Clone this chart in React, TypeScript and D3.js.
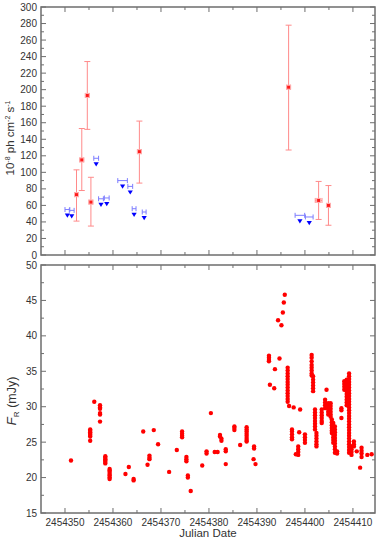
import React from 'react';
import * as d3 from 'd3';

// gamma-ray fluxes (10^-8 ph cm^-2 s^-1)
const detJD = [2454352.4, 2454353.5, 2454354.65, 2454355.4, 2454365.5, 2454396.6, 2454402.85, 2454404.9];
const detFlux = [73, 115, 193, 64, 125, 203, 66, 60];
const detLo = [41, 78, 152, 35, 87, 127, 43, 36];
const detHi = [103, 153, 234, 94, 162, 278, 89, 84];
const detXerr = [0.4, 0.4, 0.4, 0.4, 0.4, 0.4, 0.7, 0.4];

// upper limits
const ulJD = [2454350.5, 2454351.4, 2454356.5, 2454357.5, 2454358.7, 2454362.0, 2454363.6, 2454364.4, 2454366.5, 2454398.95, 2454400.9];
const ulFlux = [55, 54, 117, 68, 69, 90, 83, 56, 52, 48, 46];
const ulXerr = [0.5, 0.5, 0.5, 0.5, 0.5, 1.0, 0.5, 0.4, 0.4, 1.0, 0.8];

// optical R-band flux (mJy): [JD, values at that time]
const opticalRuns: [number, number[]][] = [
  [2454351.25, [22.4]],
  [2454355.25, [26.8, 26.6, 26.4, 26.2, 26.0, 25.8, 25.2]],
  [2454356.1, [30.7]],
  [2454357.3, [30.2, 29.9, 29.7, 29.1, 28.9, 27.9]],
  [2454358.4, [23.0, 22.8, 22.6, 22.4, 22.2, 22.0]],
  [2454359.3, [21.2, 21.0, 20.8, 20.5, 20.3, 20.0, 19.8]],
  [2454362.6, [20.5]],
  [2454363.3, [21.5]],
  [2454364.3, [19.8, 19.6]],
  [2454366.3, [26.5]],
  [2454367.2, [21.8]],
  [2454367.6, [23.1, 22.8, 22.6]],
  [2454368.5, [26.7]],
  [2454369.4, [24.7]],
  [2454371.7, [20.8]],
  [2454373.3, [23.9]],
  [2454374.4, [26.5, 26.2, 25.9, 25.7]],
  [2454375.3, [22.9, 22.6, 22.3]],
  [2454375.6, [20.3, 20.0]],
  [2454376.2, [18.1]],
  [2454378.6, [21.7]],
  [2454379.5, [23.7, 23.4]],
  [2454380.4, [29.1]],
  [2454381.2, [23.6]],
  [2454381.8, [23.6]],
  [2454382.3, [26.0, 25.8]],
  [2454382.6, [25.5, 25.2]],
  [2454383.5, [24.0, 23.7, 21.9]],
  [2454385.3, [27.2, 27.0, 26.7]],
  [2454386.5, [24.6]],
  [2454387.85, [27.1, 26.8, 26.5, 26.2, 25.9, 25.6, 25.3, 25.1]],
  [2454389.4, [24.4, 24.1]],
  [2454389.3, [22.6]],
  [2454389.7, [21.9]],
  [2454392.5, [37.2, 36.9, 36.6, 36.4]],
  [2454392.7, [33.1]],
  [2454393.6, [32.6]],
  [2454393.75, [35.3]],
  [2454394.4, [42.2]],
  [2454394.7, [36.8]],
  [2454395.1, [41.5]],
  [2454395.4, [43.3]],
  [2454395.6, [44.7]],
  [2454395.8, [45.8]],
  [2454396.4, [35.5, 35.1, 34.7, 34.3, 33.9, 33.5, 33.1, 32.7, 32.3, 31.9, 31.5, 31.1, 30.7]],
  [2454396.7, [30.1]],
  [2454397.3, [26.8, 26.5, 26.1, 25.7, 25.4]],
  [2454397.65, [29.9]],
  [2454398.1, [23.3]],
  [2454398.6, [24.4, 24.0, 23.6, 23.2]],
  [2454398.8, [26.4]],
  [2454399.0, [29.6]],
  [2454400.0, [26.1, 25.7, 25.3, 24.9]],
  [2454401.4, [37.3, 36.9, 36.4, 35.9, 35.5, 35.1, 34.7, 34.4]],
  [2454401.7, [34.3, 33.8, 33.4, 33.0, 32.6, 32.2]],
  [2454402.1, [29.6, 29.2, 28.8, 28.4, 28.0, 27.6, 27.2, 26.8]],
  [2454402.4, [26.3, 25.9, 25.5, 25.1, 24.7, 24.4]],
  [2454403.5, [29.6, 29.2, 28.8, 28.4, 28.0, 27.7]],
  [2454404.2, [31.0, 30.6, 30.2, 29.8]],
  [2454404.5, [32.4]],
  [2454404.85, [30.5, 30.1, 29.7, 29.3, 28.9]],
  [2454405.35, [30.5, 30.1, 29.7, 29.3, 28.9, 28.6]],
  [2454405.6, [28.2, 27.8, 27.4, 27.0, 26.6, 26.3]],
  [2454405.9, [27.7, 27.3, 26.9, 26.5, 26.1, 25.7, 25.3, 24.9]],
  [2454406.25, [27.2, 26.8, 26.4, 26.0, 25.6, 25.2, 24.8, 24.4, 24.0, 23.5]],
  [2454406.7, [23.7, 23.4]],
  [2454407.6, [29.8, 29.5, 28.4]],
  [2454408.2, [33.6, 33.2, 32.8, 32.4]],
  [2454408.7, [33.8, 33.4, 33.0, 32.6, 32.2, 31.8, 31.4, 31.0, 30.6, 30.2]],
  [2454409.2, [34.7, 34.3, 33.9, 33.5, 33.1, 32.7, 32.3, 31.9, 31.5, 31.1, 30.7, 30.3, 29.9, 29.5, 29.1, 28.7, 28.3, 27.9, 27.5, 27.1, 26.7, 26.3, 25.9, 25.5, 25.1, 24.7, 24.3, 23.9, 23.5]],
  [2454409.7, [24.4, 24.0, 23.6, 23.2]],
  [2454410.2, [25.1, 24.7, 24.4]],
  [2454410.8, [23.7]],
  [2454411.5, [21.4]],
  [2454411.8, [24.2, 23.8, 23.4, 22.9]],
  [2454413.0, [23.2]],
  [2454413.9, [23.3]],
];

const xTicks = [2454350, 2454360, 2454370, 2454380, 2454390, 2454400, 2454410];

const W = 382;
const H = 538;
const left = 41;
const right = 375;
const axisColor = '#6e6e6e';
const textColor = '#333';
const font = "'Liberation Sans', Arial, sans-serif";

const x = d3.scaleLinear().domain([2454345, 2454414.6]).range([left, right]);
const yTop = d3.scaleLinear().domain([0, 300]).range([255, 7]);
const yBot = d3.scaleLinear().domain([15, 50]).range([513, 265]);

function Frame({ y, major, minor, labels }: { y: d3.ScaleLinear<number, number>; major: number[]; minor: number[]; labels: boolean }) {
  const [y0, y1] = y.range();
  const xMinor = d3.range(2454355, 2454414, 10);
  return (
    <g>
      {xTicks.map(t => (
        <g key={'xt' + t}>
          <line x1={x(t)} x2={x(t)} y1={y0} y2={y0 - 5} stroke={axisColor} />
          <line x1={x(t)} x2={x(t)} y1={y1} y2={y1 + 5} stroke={axisColor} />
        </g>
      ))}
      {xMinor.map(t => (
        <g key={'xm' + t}>
          <line x1={x(t)} x2={x(t)} y1={y0} y2={y0 - 3} stroke={axisColor} />
          <line x1={x(t)} x2={x(t)} y1={y1} y2={y1 + 3} stroke={axisColor} />
        </g>
      ))}
      {major.map(t => (
        <g key={'ym' + t}>
          <line x1={left} x2={left + 5} y1={y(t)} y2={y(t)} stroke={axisColor} />
          <line x1={right} x2={right - 5} y1={y(t)} y2={y(t)} stroke={axisColor} />
          <text x={left - 4} y={y(t) + 3.5} textAnchor="end" fontSize={10} fill={textColor}>{t}</text>
        </g>
      ))}
      {minor.map(t => (
        <g key={'yn' + t}>
          <line x1={left} x2={left + 3} y1={y(t)} y2={y(t)} stroke={axisColor} />
          <line x1={right} x2={right - 3} y1={y(t)} y2={y(t)} stroke={axisColor} />
        </g>
      ))}
      {labels && xTicks.map(t => (
        <text key={'xl' + t} x={x(t)} y={y0 + 12.5} textAnchor="middle" fontSize={10} fill={textColor}>{t}</text>
      ))}
      <rect x={left} y={y1} width={right - left} height={y0 - y1} fill="none" stroke={axisColor} strokeWidth={1.5} />
    </g>
  );
}

export default function App() {
  const optical = opticalRuns.flatMap(([jd, vals]) => vals.map(v => [jd, v] as [number, number]));
  return (
    <svg width={W} height={H} style={{ position: 'absolute', left: 0, top: 0, background: '#fff' }} fontFamily={font}>
      {/* top panel: gamma-ray */}
      <Frame y={yTop} major={d3.range(0, 301, 20)} minor={d3.range(10, 300, 20)} labels={false} />
      {ulJD.map((jd, i) => {
        const cx = x(jd);
        const cy = yTop(ulFlux[i]);
        const xl = x(jd - ulXerr[i]);
        const xr = x(jd + ulXerr[i]);
        const ty = cy + 4;
        return (
          <g key={'ul' + i}>
            <line x1={xl} x2={xr} y1={cy} y2={cy} stroke="#7d7dff" strokeWidth={1} />
            <line x1={xl} x2={xl} y1={cy - 2.5} y2={cy + 2.5} stroke="#7d7dff" strokeWidth={1} />
            <line x1={xr} x2={xr} y1={cy - 2.5} y2={cy + 2.5} stroke="#7d7dff" strokeWidth={1} />
            <path d={`M${cx - 2.6},${ty} L${cx + 2.6},${ty} L${cx},${ty + 4.2} Z`} fill="#0000ff" />
          </g>
        );
      })}
      {detJD.map((jd, i) => {
        const cx = x(jd);
        const cy = yTop(detFlux[i]);
        const xl = x(jd - detXerr[i]);
        const xr = x(jd + detXerr[i]);
        const lo = yTop(detLo[i]);
        const hi = yTop(detHi[i]);
        return (
          <g key={'det' + i}>
            <line x1={cx} x2={cx} y1={hi} y2={lo} stroke="#ff8a8a" strokeWidth={1} />
            <line x1={cx - 3} x2={cx + 3} y1={hi} y2={hi} stroke="#ff8a8a" strokeWidth={1} />
            <line x1={cx - 3} x2={cx + 3} y1={lo} y2={lo} stroke="#ff8a8a" strokeWidth={1} />
            <line x1={xl} x2={xr} y1={cy} y2={cy} stroke="#ff8a8a" strokeWidth={1} />
            <line x1={xl} x2={xl} y1={cy - 2.5} y2={cy + 2.5} stroke="#ff8a8a" strokeWidth={1} />
            <line x1={xr} x2={xr} y1={cy - 2.5} y2={cy + 2.5} stroke="#ff8a8a" strokeWidth={1} />
            <rect x={cx - 2} y={cy - 2} width={4} height={4} fill="#ff1a1a" stroke="#ffb0b0" strokeWidth={1} />
          </g>
        );
      })}
      <text transform={`translate(14,138) rotate(-90)`} textAnchor="middle" fontSize={11.5} fill={textColor}>
        10<tspan dy={-4} fontSize={7}>-8</tspan><tspan dy={4}> ph cm</tspan><tspan dy={-4} fontSize={7}>-2</tspan><tspan dy={4}> s</tspan><tspan dy={-4} fontSize={7}>-1</tspan>
      </text>

      {/* bottom panel: optical */}
      <Frame y={yBot} major={d3.range(15, 51, 5)} minor={d3.range(17.5, 50, 5)} labels={true} />
      {optical.map(([jd, v], i) => (
        <circle key={'op' + i} cx={x(jd)} cy={yBot(v)} r={2.2} fill="#ff0000" />
      ))}
      <text transform={`translate(16,401) rotate(-90)`} textAnchor="middle" fontSize={12.5} fill={textColor}>
        <tspan fontStyle="italic" fontSize={13.5}>F</tspan><tspan dy={3} fontSize={8}>R</tspan><tspan dy={-3}> (mJy)</tspan>
      </text>
      <text x={(left + right) / 2} y={536.5} textAnchor="middle" fontSize={11.5} fill={textColor}>Julian Date</text>
    </svg>
  );
}
